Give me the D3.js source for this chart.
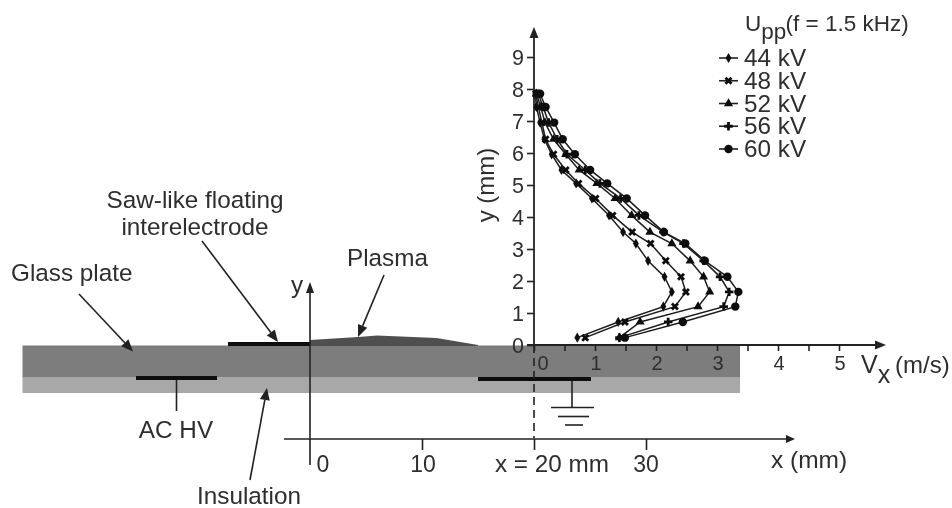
<!DOCTYPE html>
<html><head><meta charset="utf-8">
<script src="https://cdn.jsdelivr.net/npm/d3@7"></script>
<style>
html,body{margin:0;padding:0;background:#fff}
svg{display:block}
text{font-family:"Liberation Sans",Arial,sans-serif;fill:#2e2e2e}
</style></head><body>
<script>
// ---- data ----
const heights = [0.23,0.72,1.2,1.66,2.13,2.63,3.17,3.53,4.05,4.58,5.05,5.47,5.96,6.43,6.95,7.44,7.85];
const seriesNames = ["44 kV","48 kV","52 kV","56 kV","60 kV"];
const v44 = [0.71,1.38,2.12,2.26,2.14,1.87,1.67,1.46,1.23,0.95,0.69,0.45,0.29,0.17,0.10,0.04,0.02];
const v48 = [0.84,1.49,2.31,2.49,2.41,2.16,1.91,1.61,1.29,1.01,0.73,0.52,0.32,0.19,0.13,0.07,0.03];
const v52 = [1.40,1.74,2.69,2.88,2.78,2.56,2.26,1.90,1.60,1.33,1.03,0.74,0.52,0.32,0.18,0.11,0.04];
const v56 = [1.40,2.20,3.11,3.20,3.05,2.78,2.45,2.12,1.72,1.42,1.08,0.84,0.54,0.38,0.24,0.15,0.07];
const v60 = [1.49,2.44,3.30,3.35,3.17,2.80,2.48,2.13,1.82,1.52,1.20,0.92,0.67,0.47,0.33,0.19,0.10];
const seriesValues = [v44,v48,v52,v56,v60];
const symbols = [d3.symbolDiamond,d3.symbolCross,d3.symbolTriangle,d3.symbolCross,d3.symbolCircle];
const symbolSizes = [30,40,36,40,56];
const velTicks = [0,0.5,1,1.5,2,2.5,3,3.5,4,4.5,5];
const velLabels = [0,1,2,3,4,5];
const yTicks = [0,1,2,3,4,5,6,7,8,9];
const xmmTicks = [10,20,30];
const plasmaX = [0,4.3,6,11.3,15];
const plasmaH = [0.16,0.25,0.30,0.22,0];

// ---- scales ----
const W=952,H=508;
const xV = d3.scaleLinear().domain([0,5]).range([534,839]);
const yS = d3.scaleLinear().domain([0,9]).range([345,57]);
const xM = d3.scaleLinear().domain([0,30]).range([310,646]);

const svg = d3.select("body").append("svg").attr("width",W).attr("height",H).attr("viewBox",`0 0 ${W} ${H}`);
const ink="#222";
const defs = svg.append("defs");
defs.append("filter").attr("id","soft").append("feGaussianBlur").attr("stdDeviation",0.4);
const root = svg.append("g").attr("filter","url(#soft)");

function line(x1,y1,x2,y2,w=1.6,c=ink,dash){
  const l=root.append("line").attr("x1",x1).attr("y1",y1).attr("x2",x2).attr("y2",y2)
    .attr("stroke",c).attr("stroke-width",w);
  if(dash) l.attr("stroke-dasharray",dash);
  return l;
}
function arrow(x1,y1,x2,y2,w=1.6,len=12,half=5){
  const a=Math.atan2(y2-y1,x2-x1),ca=Math.cos(a),sa=Math.sin(a);
  const bx=x2-len*ca,by=y2-len*sa;
  line(x1,y1,bx,by,w);
  root.append("path").attr("fill",ink)
    .attr("d",d3.line()([[x2,y2],[bx-half*sa,by+half*ca],[bx+half*sa,by-half*ca]])+"Z");
}
function label(t,x,y,size=24.3,anchor="start"){
  return root.append("text").attr("x",x).attr("y",y).attr("font-size",size).attr("text-anchor",anchor).text(t);
}

// ---- device cross-section ----
root.append("rect").attr("x",22.5).attr("y",345.5).attr("width",717.5).attr("height",32).attr("fill","#7d7d7d");
root.append("rect").attr("x",22.5).attr("y",377).attr("width",717.5).attr("height",16).attr("fill","#a8a8a8");
root.append("path").attr("fill","#505050")
  .attr("d",d3.area().x((d,i)=>xM(plasmaX[i])).y0(yS(0)+1).y1(d=>yS(d))(plasmaH));
root.append("rect").attr("x",228).attr("y",342).attr("width",82).attr("height",4).attr("fill","#111");
root.append("rect").attr("x",136).attr("y",376).attr("width",81).attr("height",4).attr("fill","#111");
root.append("rect").attr("x",478).attr("y",377).attr("width",113).attr("height",4).attr("fill","#111");
line(176.5,380,176.5,411);
line(572,381,572,407.5);
line(551,407.5,594,407.5);
line(558,416.5,589,416.5);
line(565,425,583,425);
line(534,345,534,438,1.6,ink,"8 5");

// ---- position axis ----
arrow(284,439,795,439,1.6,9,4);
arrow(310,465,310,282,1.6,11,4);
const xAxis = root.append("g").attr("transform","translate(0,439)")
  .call(d3.axisBottom(xM).tickValues(xmmTicks).tickSize(11).tickFormat(""));
xAxis.select(".domain").remove();
xAxis.selectAll("line").attr("stroke",ink).attr("stroke-width",1.6);
label("0",323,472,23,"middle");
label("10",423,472,23,"middle");
label("x = 20 mm",552,472,24.3,"middle");
label("30",646,472,23,"middle");
label("x (mm)",771,468,24.5);

// ---- velocity / height axes ----
arrow(527,345,886,345,1.8,11,4.5);
arrow(534,345,534,27,1.8,11,4.5);
const vAxis = root.append("g").attr("transform","translate(0,345)")
  .call(d3.axisBottom(xV).tickValues(velTicks).tickSize(6).tickFormat(""));
vAxis.select(".domain").remove();
vAxis.selectAll("line").attr("stroke",ink).attr("stroke-width",1.6);
const yAxis = root.append("g").attr("transform","translate(534,0)")
  .call(d3.axisLeft(yS).tickValues(yTicks).tickSize(7).tickFormat(d=>d));
yAxis.select(".domain").remove();
yAxis.selectAll("line").attr("stroke",ink).attr("stroke-width",1.6);
yAxis.selectAll("text").attr("font-size",21.5).attr("x",-10).attr("dy","0.36em").style("fill","#2e2e2e");
velLabels.forEach(v=>label(v,v===0?xV(v)+9:xV(v)+1,370,20,"middle"));
const vx = root.append("text").attr("x",861).attr("y",373).attr("font-size",25);
vx.append("tspan").text("V");
vx.append("tspan").attr("dy",10).text("x");
vx.append("tspan").attr("dy",-10).attr("x",895).attr("font-size",24).text("(m/s)");
root.append("text").attr("font-size",24)
  .attr("transform","translate(494,185) rotate(-90)").attr("text-anchor","middle").text("y (mm)");

// ---- series ----
const lineGen = d3.line().x(d=>xV(d[0])).y(d=>yS(d[1]));
seriesValues.forEach((vals,i)=>{
  const pts = vals.map((v,j)=>[v,heights[j]]);
  const g = root.append("g");
  g.append("path").attr("d",lineGen(pts)).attr("fill","none").attr("stroke","#1c1c1c").attr("stroke-width",1.5);
  const sym = d3.symbol().type(symbols[i]).size(symbolSizes[i]);
  g.selectAll("path.m").data(pts).join("path").attr("class","m").attr("d",sym).attr("fill","#111")
    .attr("transform",d=>`translate(${xV(d[0])},${yS(d[1])})${i===1?" rotate(45)":""}`);
});

// ---- legend ----
const legendY = d3.scalePoint().domain(seriesNames).range([58,149]);
seriesNames.forEach((n,i)=>{
  const y=legendY(n);
  line(719,y,738,y,1.6);
  root.append("path").attr("d",d3.symbol().type(symbols[i]).size(symbolSizes[i])()).attr("fill","#111")
    .attr("transform",`translate(728.5,${y})${i===1?" rotate(45)":""}`);
  label(n,744,y+8,24.3);
});
const title = root.append("text").attr("x",745).attr("y",31).attr("font-size",22.5);
title.append("tspan").text("U");
title.append("tspan").attr("dy",8).text("pp");
title.append("tspan").attr("dy",-8).attr("x",785.5).text("(f = 1.5 kHz)");

// ---- annotations ----
label("Saw-like floating",195,208,24.3,"middle");
label("interelectrode",195,235,24.3,"middle");
label("Glass plate",11,281);
label("Plasma",347,266);
label("y",291,293);
label("AC HV",176,438,24.3,"middle");
label("Insulation",249,504,24.3,"middle");
arrow(79,294,133,351.5);
arrow(202,241,278,342);
arrow(384,275,358,337);
arrow(250,480,267,388);
</script>
</body></html>
